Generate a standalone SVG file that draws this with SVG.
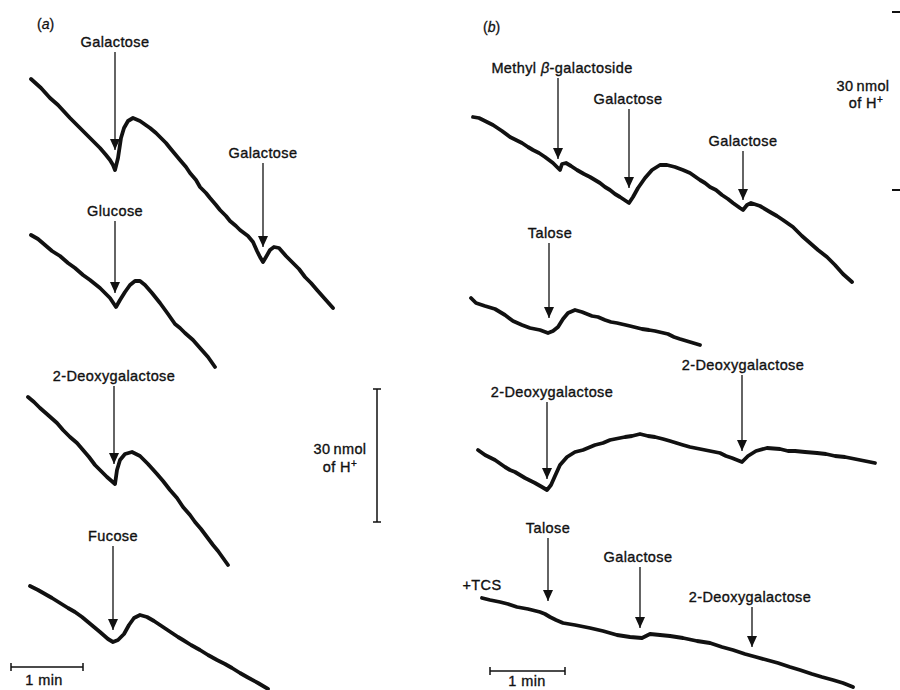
<svg xmlns="http://www.w3.org/2000/svg" width="900" height="690" viewBox="0 0 900 690">
<defs>
<marker id="ah" markerUnits="userSpaceOnUse" markerWidth="12" markerHeight="11" refX="11" refY="5" orient="auto">
<path d="M0,0 L11,5 L0,10 z" fill="#111"/>
</marker>
<style>
.tr{fill:none;stroke:#111;stroke-width:3.8;stroke-linejoin:round;stroke-linecap:round}
.ar{stroke:#111;stroke-width:1.3;fill:none;marker-end:url(#ah)}
.sb{stroke:#111;stroke-width:1.5;fill:none}
.lb{font-family:"Liberation Sans",Arial,sans-serif;font-size:14.5px;letter-spacing:0.4px;fill:#111;stroke:#111;stroke-width:0.35px;text-anchor:middle}
.pl{font-family:"Liberation Sans",Arial,sans-serif;font-size:14px;fill:#111;stroke:#111;stroke-width:0.3px}
</style>
</defs>
<rect width="900" height="690" fill="#fff"/>

<g id="panel-labels">
<text class="pl" x="37" y="29">(<tspan font-style="italic">a</tspan>)</text>
<text class="pl" x="483" y="32">(<tspan font-style="italic">b</tspan>)</text>
</g>

<g id="traces">
<polyline id="trace-a1" class="tr" points="31,79 41,88 50,98 58,105 70,118 76,124 83,131 92,140 100,148 106,155 110,160 113,165 115,170 118,158 121,138 124,128 128,121 133,118 140,121 150,128 156,133 160,137 166,143 170,148 175,154 180,160 186,167 190,173 196,180 200,187 206,193 210,198 216,205 220,210 226,216 230,221 236,226 240,230 248,236 253,242 257,251 260,257 263,262 266,257 270,250 274,247 279,248 286,256 293,263 299,269 305,277 311,283 317,290 325,299 333,308"/>
<polyline id="trace-a2" class="tr" points="31,235 38,239 45,245 52,251 60,256 68,263 75,268 83,275 90,280 100,288 106,294 110,298 116,307 120,300 125,292 130,285 135,281 140,281 145,285 152,293 160,303 168,314 175,324 180,328 185,333 193,340 200,348 208,357 215,367"/>
<polyline id="trace-a3" class="tr" points="28,397 34,402 40,408 48,415 57,423 63,430 70,437 77,443 83,450 89,457 95,465 101,471 107,477 115,484 117,470 120,460 125,454 132,452 140,456 148,464 157,474 163,481 170,490 177,498 183,507 190,515 195,522 201,529 207,537 213,545 218,551 223,558 228,565"/>
<polyline id="trace-a4" class="tr" points="30,586 38,590 45,594 52,598 60,603 68,608 75,612 82,617 88,622 94,627 100,632 108,639 113,642 118,640 124,634 129,625 134,618 140,615 147,617 154,621 160,625 166,629 172,633 178,637 183,640 191,645 200,650 208,655 217,660 225,664 232,668 240,673 247,677 258,683 268,689"/>
<polyline id="trace-b1" class="tr" points="473,117 479,118 485,121 493,125 502,131 510,137 516,140 522,143 528,147 533,150 539,153 545,157 553,163 558,168 560,170 562,164 566,163 571,166 577,170 584,174 590,177 600,183 605,187 610,190 615,194 620,197 629,203 633,197 638,188 645,178 652,170 660,165 667,165 675,167 683,170 690,173 700,180 705,183 710,187 716,190 722,195 728,199 733,203 740,208 743,210 747,205 751,203 760,206 770,212 777,216 783,220 793,227 802,236 810,243 818,250 827,257 835,265 843,274 852,282"/>
<polyline id="trace-b2" class="tr" points="471,298 476,303 485,306 495,309 500,312 505,315 513,321 522,325 530,328 540,330 548,333 553,331 558,327 563,319 568,313 575,310 582,312 592,316 598,317 605,320 611,322 617,323 630,326 642,329 649,330 655,331 668,334 674,337 680,339 690,342 700,345"/>
<polyline id="trace-b3" class="tr" points="478,450 485,455 495,460 505,467 510,470 515,472 525,478 535,483 542,487 547,490 551,485 555,476 560,465 567,457 575,452 583,450 595,445 603,443 610,440 625,437 632,436 640,434 648,436 655,437 663,439 670,441 683,445 690,447 700,449 710,451 720,453 726,456 732,458 742,462 748,456 756,451 767,448 780,449 788,451 795,451 805,452 817,453 826,454 835,456 845,457 855,459 865,461 875,463"/>
<polyline id="trace-b4" class="tr" points="482,598 490,600 500,602 508,604 517,607 528,609 540,612 545,614 550,617 556,620 563,623 575,625 590,628 603,631 617,635 630,637 642,638 646,636 650,634 660,635 670,636 683,638 697,641 710,643 722,647 733,650 745,654 756,657 767,660 778,663 790,667 800,670 812,674 822,677 833,680 843,683 853,687"/>
</g>

<g id="arrows">
<line class="ar" x1="115" y1="52" x2="115" y2="150"/>
<line class="ar" x1="263" y1="163" x2="263" y2="247"/>
<line class="ar" x1="115" y1="221" x2="115" y2="293"/>
<line class="ar" x1="114" y1="386" x2="114" y2="464"/>
<line class="ar" x1="113" y1="546" x2="113" y2="630"/>
<line class="ar" x1="558" y1="78" x2="558" y2="159"/>
<line class="ar" x1="629" y1="109" x2="629" y2="188"/>
<line class="ar" x1="743" y1="151" x2="743" y2="200"/>
<line class="ar" x1="549" y1="243" x2="549" y2="318"/>
<line class="ar" x1="547" y1="402" x2="547" y2="479"/>
<line class="ar" x1="742" y1="375" x2="742" y2="451"/>
<line class="ar" x1="548" y1="538" x2="548" y2="601"/>
<line class="ar" x1="640" y1="567" x2="640" y2="628"/>
<line class="ar" x1="752" y1="607" x2="752" y2="647"/>
</g>

<g id="labels">
<text class="lb" x="115" y="47">Galactose</text>
<text class="lb" x="263" y="158">Galactose</text>
<text class="lb" x="115" y="216">Glucose</text>
<text class="lb" x="114" y="381">2-Deoxygalactose</text>
<text class="lb" x="113" y="541">Fucose</text>
<text class="lb" x="562" y="73">Methyl <tspan font-style="italic">β</tspan>-galactoside</text>
<text class="lb" x="628" y="104">Galactose</text>
<text class="lb" x="743" y="146">Galactose</text>
<text class="lb" x="550" y="238">Talose</text>
<text class="lb" x="552" y="397">2-Deoxygalactose</text>
<text class="lb" x="743" y="370">2-Deoxygalactose</text>
<text class="lb" x="548" y="533">Talose</text>
<text class="lb" x="638" y="562">Galactose</text>
<text class="lb" x="750" y="602">2-Deoxygalactose</text>
<text class="lb" x="482" y="590">+TCS</text>
</g>

<g id="scale-a">
<path class="sb" d="M377,389 V522 M373,389 H381 M373,522 H381"/>
<text class="lb" x="340" y="454">30<tspan dx="3">nmol</tspan></text>
<text class="lb" x="340" y="472">of H<tspan font-size="10" dy="-5">+</tspan></text>
<path class="sb" d="M11,667 H83 M11,663 V671 M83,663 V671"/>
<text class="lb" x="44" y="685">1 min</text>
</g>

<g id="scale-b">
<path d="M892,12 H900 M892,190 H900" stroke="#111" stroke-width="2"/>
<text class="lb" x="863" y="91">30<tspan dx="3">nmol</tspan></text>
<text class="lb" x="866" y="108">of H<tspan font-size="10" dy="-5">+</tspan></text>
<path class="sb" d="M490,671 H565 M490,667 V675 M565,667 V675"/>
<text class="lb" x="527" y="686">1 min</text>
</g>
</svg>
